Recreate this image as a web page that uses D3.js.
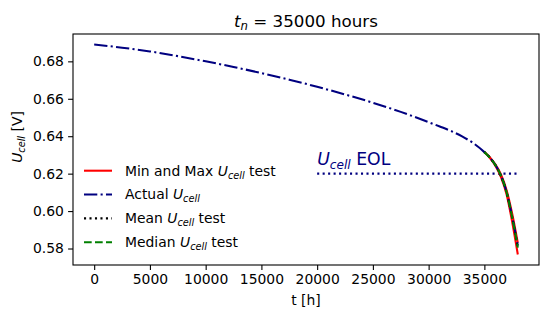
<!DOCTYPE html>
<html><head><meta charset="utf-8">
<script src="https://cdn.jsdelivr.net/npm/d3@7"></script>
<style>body{margin:0;background:#fff}svg{display:block;font-family:"DejaVu Sans",sans-serif}</style>
</head><body><svg id="c" width="547" height="318"></svg>
<script>
// ---- data ----
const tActual = [0,2500,5000,7500,10000,12500,15000,17500,20000,22500,25000,27500,30000,31000,32000,33000,34000,35000,35500,36000,36500,37000,37500,38000];
const uActual = [0.6890,0.6873,0.6853,0.6828,0.6800,0.6770,0.6737,0.6702,0.6664,0.6623,0.6579,0.6530,0.6475,0.6452,0.6428,0.6399,0.6363,0.6315,0.6285,0.6245,0.6188,0.6100,0.5968,0.5815];
const tTest = [35000,35500,36000,36500,37000,37500,38000];
const uMin = [0.6315,0.6283,0.6241,0.6180,0.6087,0.5940,0.5768];
const uMax = [0.6315,0.6287,0.6248,0.6194,0.6110,0.5985,0.5830];
const uMean = [0.6315,0.6285,0.6244,0.6186,0.6097,0.5962,0.5800];
const uMedian = [0.6315,0.6285,0.6245,0.6187,0.6099,0.5965,0.5805];
const eolT = [20000,38000];
const eolU = 0.62;
const xTicks = [0,5000,10000,15000,20000,25000,30000,35000];
const yTicks = [0.58,0.60,0.62,0.64,0.66,0.68];
const legendLabels = ["Min and Max ", "Actual ", "Mean ", "Median "];
const legendSuffix = [" test", "", " test", " test"];

// ---- layout ----
const L=73,R=539,T=34,B=265;
const svg=d3.select("#c");
const xmin=0,xmax=38000, xm=(xmax-xmin)*0.05;
const allU=uActual.concat(uMin,uMax);
const ymin=d3.min(allU), ymax=d3.max(allU), ym=(ymax-ymin)*0.05;
const x=d3.scaleLinear().domain([xmin-xm,xmax+xm]).range([L,R]);
const y=d3.scaleLinear().domain([ymin-ym,ymax+ym]).range([B,T]);

const navy="#000080";
const lw=2.08;
const dashDot=[13.3,3.3,2.08,3.3], dotted=[2.08,3.4], dashed=[7.7,3.3];

const line=d3.line().x(d=>x(d[0])).y(d=>y(d[1])).curve(d3.curveMonotoneX);
function draw(ts,us,color,dash){
  svg.append("path").attr("d",line(ts.map((t,i)=>[t,us[i]])))
    .attr("fill","none").attr("stroke",color).attr("stroke-width",lw)
    .attr("stroke-dasharray",dash?dash.join(","):null);
}
draw(eolT,[eolU,eolU],navy,dotted);
draw(tTest,uMin,"#ff0000",null);
draw(tTest,uMax,"#ff0000",null);
draw(tActual,uActual,navy,dashDot);
draw(tTest,uMean,"#000000",dotted);
draw(tTest,uMedian,"#008000",dashed);

// axes frame
svg.append("rect").attr("x",L).attr("y",T).attr("width",R-L).attr("height",B-T)
  .attr("fill","none").attr("stroke","#000").attr("stroke-width",1.1);

const xa=svg.append("g").attr("transform",`translate(0,${B})`)
  .call(d3.axisBottom(x).tickValues(xTicks).tickFormat(d3.format("d")).tickSize(4.9).tickPadding(4.2));
const ya=svg.append("g").attr("transform",`translate(${L},0)`)
  .call(d3.axisLeft(y).tickValues(yTicks).tickFormat(d3.format(".2f")).tickSize(4.9).tickPadding(4.2));
[xa,ya].forEach(a=>{
  a.select(".domain").remove();
  a.selectAll(".tick line").attr("stroke","#000").attr("stroke-width",1.1);
  a.selectAll(".tick text").attr("fill","#000").style("font-size","13.9px").style("font-family","DejaVu Sans");
});

function ucell(sel,size){
  sel.append("tspan").attr("font-style","italic").text("U");
  sel.append("tspan").attr("font-style","italic").attr("font-size",size*0.7+"px").attr("dy",size*0.22).text("cell");
  return sel;
}

// title
const tt=svg.append("text").attr("x",306).attr("y",26.5).attr("text-anchor","middle").style("font-size","16.7px");
tt.append("tspan").attr("font-style","italic").text("t");
tt.append("tspan").attr("font-style","italic").attr("font-size","11.7px").attr("dy",3.7).text("n");
tt.append("tspan").attr("dy",-3.7).text(" = 35000 hours");

// x label
svg.append("text").attr("x",306).attr("y",304.5).attr("text-anchor","middle").style("font-size","13.9px").text("t [h]");
// y label
const yl=svg.append("text").attr("transform","translate(22,137) rotate(-90)").attr("text-anchor","middle").style("font-size","13.9px");
ucell(yl,13.9);
yl.append("tspan").attr("dy",-13.9*0.22).text(" [V]");

// EOL label
const eol=svg.append("text").attr("x",x(eolT[0])).attr("y",165).attr("fill",navy).style("font-size","17.3px");
ucell(eol,17.3);
eol.append("tspan").attr("dy",-17.3*0.22).text(" EOL");

// legend
const legColors=["#ff0000",navy,"#000000","#008000"];
const legDash=[null,dashDot,dotted,dashed];
const rowY=[170.7,194.5,218.4,242.3];
legendLabels.forEach((lab,i)=>{
  svg.append("line").attr("x1",84).attr("x2",112).attr("y1",rowY[i]).attr("y2",rowY[i])
    .attr("stroke",legColors[i]).attr("stroke-width",lw).attr("stroke-dasharray",legDash[i]?legDash[i].join(","):null);
  const t=svg.append("text").attr("x",125).attr("y",rowY[i]+4.9).style("font-size","13.9px").attr("fill","#000");
  t.append("tspan").text(lab);
  ucell(t,13.9);
  if(legendSuffix[i]) t.append("tspan").attr("dy",-13.9*0.22).text(legendSuffix[i]);
});
</script></body></html>
